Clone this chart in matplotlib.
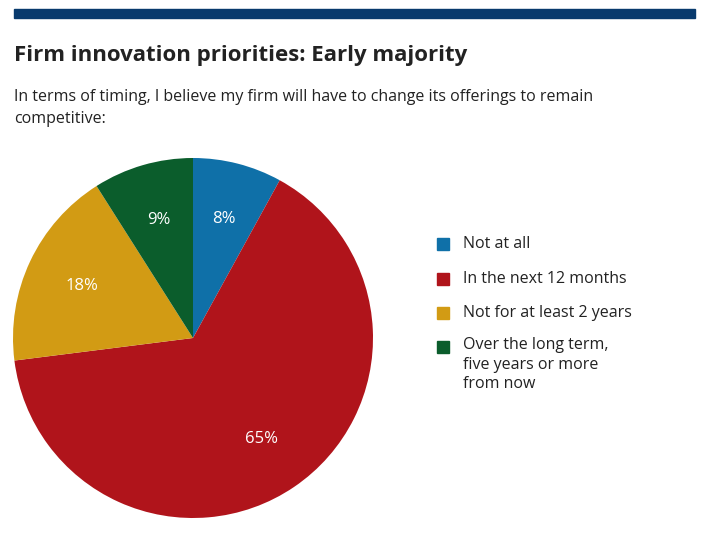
import matplotlib.pyplot as plt
from matplotlib.patches import Rectangle

plt.rcParams['font.family'] = ['Open Sans', 'DejaVu Sans']

labels = ["Not at all", "In the next 12 months", "Not for at least 2 years",
          "Over the long term,\nfive years or more\nfrom now"]
values = [8, 65, 18, 9]
colors = ["#0f70a8", "#b0141b", "#d29b14", "#0b5d2c"]

fig = plt.figure(figsize=(7.04, 5.42), dpi=100)

# top navy band
fig.patches.append(Rectangle((14 / 704, 1 - 18 / 542), 681 / 704, 9 / 542,
                             transform=fig.transFigure, color="#083a6d"))

fig.text(14 / 704, 1 - 55 / 542, "Firm innovation priorities: Early majority",
         fontsize=16, fontweight="bold", color="#222222", va="center")
fig.text(14 / 704, 1 - 108 / 542,
         "In terms of timing, I believe my firm will have to change its offerings to remain\ncompetitive:",
         fontsize=11.5, color="#222222", va="center", linespacing=1.45)

ax = fig.add_axes([13 / 704, 1 - 518 / 542, 360 / 704, 360 / 542])
ax.pie(values, colors=colors, startangle=90, counterclock=False,
       autopct="%d%%", pctdistance=0.68,
       textprops=dict(color="white", fontsize=12),
       wedgeprops=dict(linewidth=0))
ax.set_aspect("equal")
ax.set_xlim(-1, 1)
ax.set_ylim(-1, 1)

# legend
ys = [244, 279, 313, 347]
for lab, c, y in zip(labels, colors, ys):
    fig.patches.append(Rectangle((437 / 704, 1 - (y + 6) / 542), 12 / 704, 12 / 542,
                                 transform=fig.transFigure, color=c))
    if "\n" in lab:
        fig.text(463 / 704, 1 - (y - 10) / 542, lab, fontsize=11.5, color="#222222",
                 va="top", linespacing=1.3)
    else:
        fig.text(463 / 704, 1 - y / 542, lab, fontsize=11.5, color="#222222", va="center")

fig.savefig("out.png", dpi=100)
